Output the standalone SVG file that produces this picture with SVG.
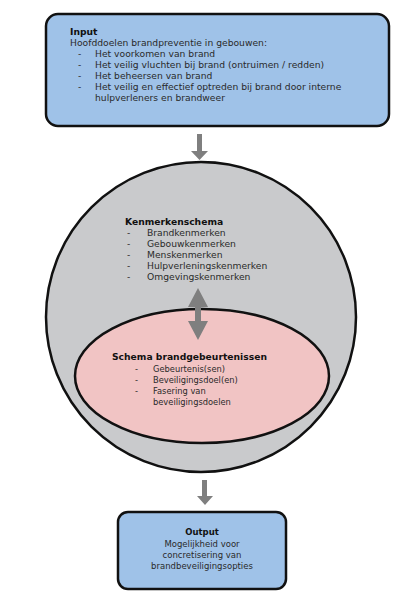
<svg xmlns="http://www.w3.org/2000/svg" width="411" height="599" viewBox="0 0 411 599">
<style>
text{font-family:"DejaVu Sans","Liberation Sans",sans-serif;font-size:9.2px;fill:#2a2a2a}
.b{font-weight:bold;fill:#111}
.s{font-size:8.3px}
.o{font-size:8.5px}
.node{stroke:#111;stroke-width:2.5}
.arr{fill:#7f7f7f}
</style>
<rect width="411" height="599" fill="#fff"/>
<g id="input">
<rect class="node" x="46" y="14" width="343" height="112" rx="12" fill="#9fc2e8"/>
<text class="b" x="70" y="35">Input</text>
<text x="70" y="46">Hoofddoelen brandpreventie in gebouwen:</text>
<text x="78" y="57">-</text><text x="95" y="57">Het voorkomen van brand</text>
<text x="78" y="68">-</text><text x="95" y="68">Het veilig vluchten bij brand (ontruimen / redden)</text>
<text x="78" y="79">-</text><text x="95" y="79">Het beheersen van brand</text>
<text x="78" y="90">-</text><text x="95" y="90">Het veilig en effectief optreden bij brand door interne</text>
<text x="95" y="101">hulpverleners en brandweer</text>
</g>
<g id="kenmerkenschema">
<circle class="node" cx="201" cy="317" r="155" fill="#c9cacc"/>
<text class="b" x="125" y="225">Kenmerkenschema</text>
<text x="127" y="236">-</text><text x="147" y="236">Brandkenmerken</text>
<text x="127" y="247">-</text><text x="147" y="247">Gebouwkenmerken</text>
<text x="127" y="258">-</text><text x="147" y="258">Menskenmerken</text>
<text x="127" y="269">-</text><text x="147" y="269">Hulpverleningskenmerken</text>
<text x="127" y="280">-</text><text x="147" y="280">Omgevingskenmerken</text>
</g>
<g id="schema-brandgebeurtenissen">
<ellipse class="node" cx="202" cy="376" rx="127" ry="67" fill="#f1c4c4"/>
<text class="b" x="112" y="360">Schema brandgebeurtenissen</text>
<text class="s" x="135" y="372">-</text><text class="s" x="153" y="372">Gebeurtenis(sen)</text>
<text class="s" x="135" y="383">-</text><text class="s" x="153" y="383">Beveiligingsdoel(en)</text>
<text class="s" x="135" y="394">-</text><text class="s" x="153" y="394">Fasering van</text>
<text class="s" x="153" y="405">beveiligingsdoelen</text>
</g>
<g id="output">
<rect class="node" x="118" y="512" width="168" height="77" rx="10" fill="#9fc2e8"/>
<text class="b o" x="202" y="535" text-anchor="middle">Output</text>
<text class="o" x="202" y="547" text-anchor="middle">Mogelijkheid voor</text>
<text class="o" x="202" y="558" text-anchor="middle">concretisering van</text>
<text class="o" x="202" y="569" text-anchor="middle">brandbeveiligingsopties</text>
</g>
<g id="connectors">
<polygon class="arr" points="197,134 202,134 202,151 208,151 199.5,160 191,151 197,151"/>
<polygon class="arr" points="198,288 208,307 201,307 201,321 208,321 198,340 188,321 195,321 195,307 188,307"/>
<polygon class="arr" points="202,480 207,480 207,496 213,496 205,505 197,496 202,496"/>
</g>
</svg>
